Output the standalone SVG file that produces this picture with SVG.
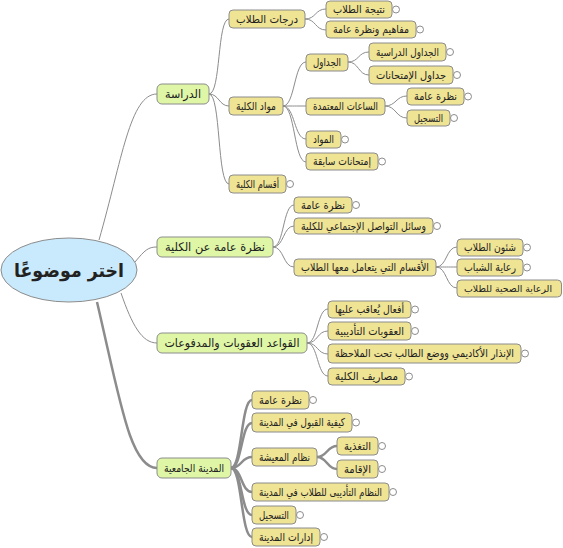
<svg xmlns="http://www.w3.org/2000/svg" width="563" height="548" viewBox="0 0 563 548">
<style>
text{font-family:"DejaVu Sans","Noto Sans",sans-serif;fill:#222;text-anchor:middle;dominant-baseline:central;font-size:11px}
.l1 rect{fill:#def6a6;stroke:#8c8c8c;stroke-width:1}
.n rect{fill:#efe394;stroke:#8c8c8c;stroke-width:1}
.l1 text{font-size:12px}
.c{fill:#fff;stroke:#8c8c8c;stroke-width:1}
#edges path{fill:none;stroke:#8c8c8c;stroke-width:1}
#edges .t{stroke:#8c8c8c;stroke-width:2.5}
</style>
<rect width="563" height="548" fill="#fff"/>
<g id="edges">
<path d="M99,240 C122,160 130,94 157,94"/>
<path d="M135,262 C145,250 148,247 157,247"/>
<path d="M121,293 C132,325 142,343 157,343"/>
<path class="t" d="M97,302 C120,400 130,468 157,468"/>
<path d="M209,94 C221,94 217,19 229,19"/>
<path d="M209,94 C219,94 219,106 229,106"/>
<path d="M209,94 C221,94 217,184 229,184"/>
<path d="M305,19 C316,19 315,9 326,9"/>
<path d="M305,19 C316,19 315,30 326,30"/>
<path d="M283,106 C295,106 294,62 306,62"/>
<path d="M283,106 C295,106 294,106 306,106"/>
<path d="M283,106 C295,106 294,139 306,139"/>
<path d="M283,106 C295,106 294,162 306,162"/>
<path d="M348,62 C359,62 358,52 369,52"/>
<path d="M348,62 C359,62 358,75 369,75"/>
<path d="M385,106 C396,106 396,96 407,96"/>
<path d="M385,106 C396,106 396,118 407,118"/>
<path d="M273,247 C284,247 283,205 294,205"/>
<path d="M273,247 C284,247 283,226 294,226"/>
<path d="M273,247 C284,247 283,267 294,267"/>
<path d="M436,267 C447,267 446,247 457,247"/>
<path d="M436,267 C447,267 446,267 457,267"/>
<path d="M436,267 C447,267 446,288 457,288"/>
<path d="M307,343 C318,343 317,309 328,309"/>
<path d="M307,343 C318,343 317,331 328,331"/>
<path d="M307,343 C318,343 317,354 328,354"/>
<path d="M307,343 C318,343 317,376 328,376"/>
<path class="t" d="M231,468 C242,468 241,400 252,400"/>
<path class="t" d="M231,468 C242,468 241,423 252,423"/>
<path class="t" d="M231,468 C242,468 241,457 252,457"/>
<path class="t" d="M231,468 C242,468 241,492 252,492"/>
<path class="t" d="M231,468 C242,468 241,515 252,515"/>
<path class="t" d="M231,468 C242,468 241,537 252,537"/>
<path class="t" d="M317,457 C327,457 327,446 337,446"/>
<path class="t" d="M317,457 C327,457 327,469 337,469"/>
</g>
<g id="root">
<ellipse cx="69" cy="270" rx="68" ry="32" fill="#c9eafc" stroke="#8c8c8c" stroke-width="1"/>
<text x="69" y="270" style="font-size:19px;font-weight:bold" textLength="110" lengthAdjust="spacingAndGlyphs">اختر موضوعًا</text>
</g>
<g id="n-dirasa" class="l1"><rect x="157" y="84" width="52" height="20" rx="5"/><text x="183" y="94" textLength="36" lengthAdjust="spacingAndGlyphs">الدراسة</text></g>
<g id="n-nazra" class="l1"><rect x="157" y="237" width="116" height="20" rx="5"/><text x="215" y="247" textLength="100" lengthAdjust="spacingAndGlyphs">نظرة عامة عن الكلية</text></g>
<g id="n-qawaed" class="l1"><rect x="157" y="333" width="150" height="20" rx="5"/><text x="232" y="343" textLength="135" lengthAdjust="spacingAndGlyphs">القواعد العقوبات والمدفوعات</text></g>
<g id="n-madina" class="l1"><rect x="157" y="458" width="74" height="20" rx="5"/><text x="194" y="468" style="font-size:11px" textLength="60" lengthAdjust="spacingAndGlyphs">المدينة الجامعية</text></g>

<g id="n-darajat" class="n"><rect x="229" y="10" width="76" height="18" rx="4"/><text x="267" y="19" textLength="62" lengthAdjust="spacingAndGlyphs">درجات الطلاب</text></g>
<g id="n-mawad-kolia" class="n"><rect x="229" y="97" width="54" height="18" rx="4"/><text x="256" y="106" textLength="40" lengthAdjust="spacingAndGlyphs">مواد الكلية</text></g>
<g id="n-aqsam" class="n"><rect x="229" y="175" width="57" height="18" rx="4"/><text x="257.5" y="184" textLength="43" lengthAdjust="spacingAndGlyphs">أقسام الكلية</text><circle class="c" cx="290" cy="184" r="3.5"/></g>

<g id="n-natija" class="n"><rect x="326" y="1" width="66" height="17" rx="4"/><text x="359" y="9.5" textLength="52" lengthAdjust="spacingAndGlyphs">نتيجة الطلاب</text><circle class="c" cx="396" cy="9.5" r="3.5"/></g>
<g id="n-mafahim" class="n"><rect x="326" y="21" width="90" height="17" rx="4"/><text x="371" y="29.5" textLength="76" lengthAdjust="spacingAndGlyphs">مفاهيم ونظرة عامة</text><circle class="c" cx="420" cy="29.5" r="3.5"/></g>

<g id="n-jadawil" class="n"><rect x="306" y="54" width="42" height="17" rx="4"/><text x="327" y="62.5" textLength="28" lengthAdjust="spacingAndGlyphs">الجداول</text></g>
<g id="n-saat" class="n"><rect x="306" y="98" width="79" height="17" rx="4"/><text x="345.5" y="106.5" textLength="65" lengthAdjust="spacingAndGlyphs">الساعات المعتمدة</text></g>
<g id="n-mawad" class="n"><rect x="306" y="131" width="35" height="17" rx="4"/><text x="323.5" y="139.5" textLength="21" lengthAdjust="spacingAndGlyphs">المواد</text><circle class="c" cx="345" cy="139.5" r="3.5"/></g>
<g id="n-imtihanat" class="n"><rect x="306" y="153" width="72" height="17" rx="4"/><text x="342" y="161.5" textLength="58" lengthAdjust="spacingAndGlyphs">إمتحانات سابقة</text><circle class="c" cx="382" cy="161.5" r="3.5"/></g>

<g id="n-jadawil-dirasia" class="n"><rect x="369" y="43" width="77" height="18" rx="4"/><text x="407.5" y="52" textLength="63" lengthAdjust="spacingAndGlyphs">الجداول الدراسية</text><circle class="c" cx="450" cy="52" r="3.5"/></g>
<g id="n-jadawil-imt" class="n"><rect x="369" y="66" width="84" height="18" rx="4"/><text x="411" y="75" textLength="70" lengthAdjust="spacingAndGlyphs">جداول الإمتحانات</text><circle class="c" cx="457" cy="75" r="3.5"/></g>

<g id="n-saat-nazra" class="n"><rect x="407" y="88" width="57" height="17" rx="4"/><text x="435.5" y="96.5" textLength="43" lengthAdjust="spacingAndGlyphs">نظرة عامة</text><circle class="c" cx="468" cy="96.5" r="3.5"/></g>
<g id="n-saat-tasjil" class="n"><rect x="407" y="110" width="43" height="16" rx="4"/><text x="428.5" y="118" textLength="29" lengthAdjust="spacingAndGlyphs">التسجيل</text><circle class="c" cx="454" cy="118" r="3.5"/></g>

<g id="n-k-nazra" class="n"><rect x="294" y="197" width="58" height="16" rx="4"/><text x="323" y="205" textLength="44" lengthAdjust="spacingAndGlyphs">نظرة عامة</text><circle class="c" cx="356" cy="205" r="3.5"/></g>
<g id="n-wasael" class="n"><rect x="294" y="218" width="139" height="16" rx="4"/><text x="363.5" y="226" textLength="125" lengthAdjust="spacingAndGlyphs">وسائل التواصل الإجتماعي للكلية</text><circle class="c" cx="437" cy="226" r="3.5"/></g>
<g id="n-aqsam-taamol" class="n"><rect x="294" y="259" width="142" height="17" rx="4"/><text x="365" y="267.5" textLength="128" lengthAdjust="spacingAndGlyphs">الأقسام التي يتعامل معها الطلاب</text></g>

<g id="n-shoon" class="n"><rect x="457" y="239" width="66" height="17" rx="4"/><text x="490" y="247.5" textLength="52" lengthAdjust="spacingAndGlyphs">شئون الطلاب</text><circle class="c" cx="527" cy="247.5" r="3.5"/></g>
<g id="n-reaya" class="n"><rect x="457" y="259" width="66" height="17" rx="4"/><text x="490" y="267.5" textLength="52" lengthAdjust="spacingAndGlyphs">رعاية الشباب</text><circle class="c" cx="527" cy="267.5" r="3.5"/></g>
<g id="n-sehhia" class="n"><rect x="457" y="280" width="104.5" height="17" rx="4"/><text x="508" y="288.5" style="font-size:9.5px" textLength="88" lengthAdjust="spacingAndGlyphs">الرعاية الصحية للطلاب</text></g>

<g id="n-afaal" class="n"><rect x="328" y="301" width="83" height="17" rx="4"/><text x="369.5" y="309.5" textLength="69" lengthAdjust="spacingAndGlyphs">أفعال يُعاقب عليها</text><circle class="c" cx="415" cy="309.5" r="3.5"/></g>
<g id="n-oqubat" class="n"><rect x="328" y="322" width="83" height="18" rx="4"/><text x="369.5" y="331" textLength="69" lengthAdjust="spacingAndGlyphs">العقوبات التأديبية</text><circle class="c" cx="415" cy="331" r="3.5"/></g>
<g id="n-inzar" class="n"><rect x="328" y="344" width="193" height="19" rx="4"/><text x="424.5" y="353.5" textLength="179" lengthAdjust="spacingAndGlyphs">الإنذار الأكاديمي ووضع الطالب تحت الملاحظة</text><circle class="c" cx="525" cy="353.5" r="3.5"/></g>
<g id="n-masarif" class="n"><rect x="328" y="368" width="77" height="17" rx="4"/><text x="366.5" y="376.5" textLength="63" lengthAdjust="spacingAndGlyphs">مصاريف الكلية</text><circle class="c" cx="409" cy="376.5" r="3.5"/></g>

<g id="n-m-nazra" class="n"><rect x="252" y="391" width="57" height="18" rx="4"/><text x="280.5" y="400" textLength="43" lengthAdjust="spacingAndGlyphs">نظرة عامة</text><circle class="c" cx="313" cy="400" r="3.5"/></g>
<g id="n-qabool" class="n"><rect x="252" y="413" width="100" height="19" rx="4"/><text x="302" y="422.5" textLength="86" lengthAdjust="spacingAndGlyphs">كيفية القبول في المدينة</text><circle class="c" cx="356" cy="422.5" r="3.5"/></g>
<g id="n-maisha" class="n"><rect x="252" y="448" width="65" height="18" rx="4"/><text x="284.5" y="457" textLength="51" lengthAdjust="spacingAndGlyphs">نظام المعيشة</text></g>
<g id="n-taghdhia" class="n"><rect x="337" y="437" width="41" height="18" rx="4"/><text x="357.5" y="446" textLength="27" lengthAdjust="spacingAndGlyphs">التغذية</text><circle class="c" cx="382" cy="446" r="3.5"/></g>
<g id="n-iqama" class="n"><rect x="337" y="460" width="41" height="18" rx="4"/><text x="357.5" y="469" textLength="27" lengthAdjust="spacingAndGlyphs">الإقامة</text><circle class="c" cx="382" cy="469" r="3.5"/></g>
<g id="n-nizam-tadibi" class="n"><rect x="252" y="483" width="137" height="18" rx="4"/><text x="320.5" y="492" textLength="123" lengthAdjust="spacingAndGlyphs">النظام التأديبى للطلاب في المدينة</text><circle class="c" cx="393" cy="492" r="3.5"/></g>
<g id="n-m-tasjil" class="n"><rect x="252" y="506" width="44" height="18" rx="4"/><text x="274" y="515" textLength="30" lengthAdjust="spacingAndGlyphs">التسجيل</text><circle class="c" cx="300" cy="515" r="3.5"/></g>
<g id="n-idarat" class="n"><rect x="252" y="528" width="68" height="18" rx="4"/><text x="286" y="537" textLength="54" lengthAdjust="spacingAndGlyphs">إدارات المدينة</text><circle class="c" cx="324" cy="537" r="3.5"/></g>
</svg>
